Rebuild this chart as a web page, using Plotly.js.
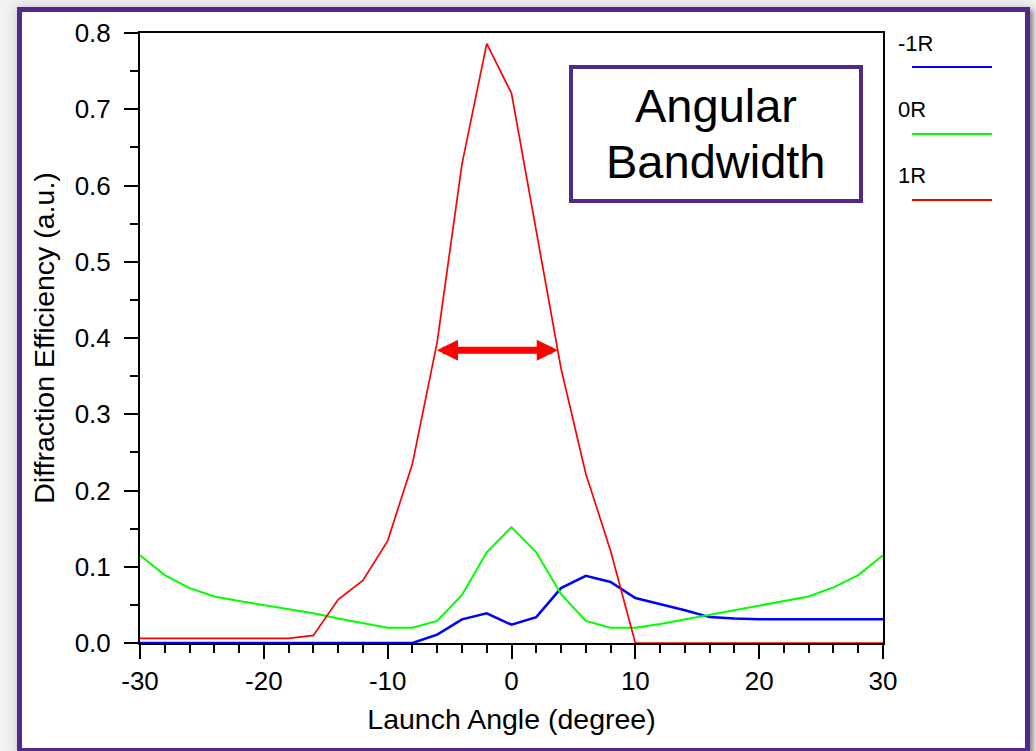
<!DOCTYPE html>
<html>
<head>
<meta charset="utf-8">
<script src="https://cdn.plot.ly/plotly-3.0.1.min.js"></script>
<style>
  html, body { margin: 0; padding: 0; width: 1036px; height: 751px; overflow: hidden; background: #f3f3f3; }
  #frame {
    position: absolute; left: 17px; top: 7px; width: 1003px; height: 736px;
    border: 5px solid #52288a; background: #ffffff;
    box-shadow: 3px 3px 5px rgba(0,0,0,0.40), 0 0 12px 3px rgba(0,0,0,0.10);
  }
  #chart { position: absolute; left: 0; top: 0; width: 1036px; height: 751px; }
</style>
</head>
<body>
<div id="frame"></div>
<div id="chart"></div>
<script>
// Launch angle (degree) and diffraction efficiency of each reflected order
const angle = [-30, -28, -26, -24, -22, -20, -18, -16, -14, -12, -10, -8, -6, -4, -2, 0,
               2, 4, 6, 8, 10, 12, 14, 16, 18, 20, 22, 24, 26, 28, 30];
const orderMinus1R = [0, 0, 0, 0, 0, 0, 0, 0, 0, 0, 0, 0, 0.011, 0.031, 0.039, 0.024,
                      0.034, 0.072, 0.088, 0.080, 0.059, 0.051, 0.043, 0.034, 0.032, 0.031, 0.031, 0.031, 0.031, 0.031, 0.031];
const order0R = [0.115, 0.089, 0.072, 0.061, 0.055, 0.050, 0.045, 0.039, 0.032, 0.026, 0.020, 0.020, 0.029, 0.063, 0.119, 0.152,
                 0.119, 0.064, 0.029, 0.020, 0.020, 0.025, 0.031, 0.037, 0.043, 0.049, 0.055, 0.061, 0.073, 0.089, 0.115];
const order1R = [0.006, 0.006, 0.006, 0.006, 0.006, 0.006, 0.006, 0.010, 0.057, 0.082, 0.134, 0.235, 0.395, 0.628, 0.786, 0.721,
                 0.540, 0.360, 0.222, 0.121, 0, 0, 0, 0, 0, 0, 0, 0, 0, 0, 0];

const seriesNames = ['-1R', '0R', '1R'];
const seriesValues = [orderMinus1R, order0R, order1R];
const seriesColors = ['#0000ff', '#00ff00', '#ff0000'];
const seriesWidths = [2.5, 2, 1.7];

const xTickVals = [-30, -20, -10, 0, 10, 20, 30];
const xTickText = ['-30', '-20', '-10', '0', '10', '20', '30'];
const yTickVals = [0, 0.1, 0.2, 0.3, 0.4, 0.5, 0.6, 0.7, 0.8];
const yTickText = ['0.0', '0.1', '0.2', '0.3', '0.4', '0.5', '0.6', '0.7', '0.8'];

const boxLines = ['Angular', 'Bandwidth'];
const bandwidthLevel = 0.384;   // efficiency level the bandwidth arrow spans

// page geometry
const W = 1036, H = 751;
const M = { l: 140, r: 153, t: 33, b: 108 };
const PW = W - M.l - M.r, PH = H - M.t - M.b;
const px = p => (p - M.l) / PW;          // pixel column -> paper x
const py = p => (H - M.b - p) / PH;      // pixel row -> paper y

const FONT = 'Liberation Sans, Arial, sans-serif';

const traces = seriesNames.map((name, i) => ({
  type: 'scatter', mode: 'lines', name: name,
  x: angle, y: seriesValues[i],
  line: { color: seriesColors[i], width: seriesWidths[i] },
  showlegend: false, hoverinfo: 'skip'
}));

// angles where the 1R curve crosses the bandwidth level
function crossings(xs, ys, level) {
  const out = [];
  for (let i = 0; i < xs.length - 1; i++) {
    if ((ys[i] - level) * (ys[i + 1] - level) < 0) {
      out.push(xs[i] + (level - ys[i]) * (xs[i + 1] - xs[i]) / (ys[i + 1] - ys[i]));
    }
  }
  return out;
}
const cross = crossings(angle, order1R, bandwidthLevel);
const bwLeft = cross[0], bwRight = cross[cross.length - 1];

const annotations = [];
const shapes = [];

// double-headed bandwidth arrow
annotations.push({
  xref: 'x', yref: 'y', axref: 'x', ayref: 'y',
  x: bwRight, y: bandwidthLevel, ax: bwLeft, ay: bandwidthLevel,
  text: '', showarrow: true, arrowside: 'end+start',
  arrowhead: 2, startarrowhead: 2, arrowsize: 0.6, startarrowsize: 0.6,
  arrowwidth: 7, arrowcolor: '#ff0000', standoff: 0, startstandoff: 0
});

// "Angular Bandwidth" callout box
shapes.push({
  type: 'rect', xref: 'paper', yref: 'paper',
  x0: px(571), x1: px(861), y0: py(201), y1: py(67),
  line: { color: '#52288a', width: 4 }, fillcolor: '#ffffff', layer: 'above'
});
const boxRows = [106, 161];
boxLines.forEach((t, i) => annotations.push({
  xref: 'paper', yref: 'paper', x: px(716), y: py(boxRows[i]),
  xanchor: 'center', yanchor: 'middle', showarrow: false, text: t,
  font: { family: FONT, size: 47, color: '#000000' }
}));

// legend: name above a line sample
const legendRows = [43, 110, 176];
seriesNames.forEach((name, i) => {
  annotations.push({
    xref: 'paper', yref: 'paper', x: px(896), y: py(legendRows[i]),
    xanchor: 'left', yanchor: 'middle', showarrow: false, text: name,
    font: { family: FONT, size: 22, color: '#000000' }
  });
  shapes.push({
    type: 'line', xref: 'paper', yref: 'paper',
    x0: px(912), x1: px(992), y0: py(legendRows[i] + 24), y1: py(legendRows[i] + 24),
    line: { color: seriesColors[i], width: 2 }
  });
});

const axisCommon = {
  showline: true, linecolor: '#000000', linewidth: 2, mirror: true,
  showgrid: false, zeroline: false, layer: 'below traces',
  ticks: 'outside', ticklen: 14, tickwidth: 2, tickcolor: '#000000',
  tickfont: { family: FONT, size: 26, color: '#000000' },
  fixedrange: true
};

const layout = {
  width: W, height: H, margin: M,
  paper_bgcolor: 'rgba(0,0,0,0)', plot_bgcolor: 'rgba(0,0,0,0)',
  showlegend: false,
  xaxis: Object.assign({}, axisCommon, {
    range: [-30, 30], tickmode: 'array', tickvals: xTickVals, ticktext: xTickText,
    minor: { dtick: 2, ticks: 'outside', ticklen: 8, tickwidth: 2, tickcolor: '#000000' },
    title: { text: 'Launch Angle (degree)', font: { family: FONT, size: 28.5, color: '#000000' }, standoff: 14 }
  }),
  yaxis: Object.assign({}, axisCommon, {
    range: [0, 0.8], tickmode: 'array', tickvals: yTickVals, ticktext: yTickText,
    minor: { dtick: 0.05, ticks: 'outside', ticklen: 8, tickwidth: 2, tickcolor: '#000000' },
    ticklabelstandoff: 8,
    title: { text: 'Diffraction Efficiency (a.u.)', font: { family: FONT, size: 28.5, color: '#000000' }, standoff: 12 }
  }),
  annotations: annotations,
  shapes: shapes
};

Plotly.newPlot('chart', traces, layout, { staticPlot: true, displayModeBar: false });
</script>
</body>
</html>
